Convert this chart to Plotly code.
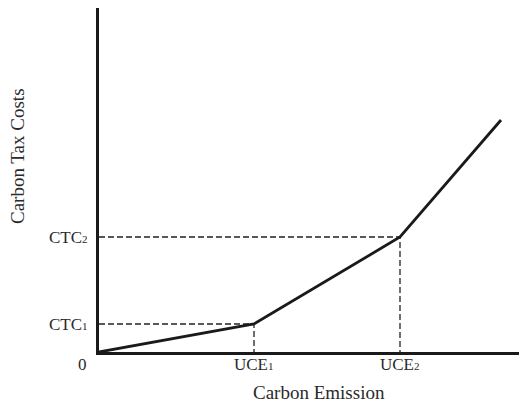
import plotly.graph_objects as go

# Piecewise carbon tax cost curve (arbitrary units)
emission = [0, 155, 301, 402]
tax_cost = [0, 28, 115, 232]
uce_points = [155, 301]
ctc_points = [28, 115]
uce_labels = ['UCE<span style="font-size:11px">1</span>', 'UCE<span style="font-size:11px">2</span>']
ctc_labels = ['CTC<span style="font-size:11px">1</span>', 'CTC<span style="font-size:11px">2</span>']
x_title = "Carbon Emission"
y_title = "Carbon Tax Costs"

X_MAX = 428
Y_MAX = 344
FAM = "Liberation Serif, Times New Roman, serif"
FONT = dict(family=FAM, size=17, color="#2a2a2a")
TFONT = dict(family=FAM, size=19, color="#2a2a2a")

# page body has an 8px margin; compensate so the plot lands where the reference has it
OFF = 8
W, H = 527 - OFF, 402 - OFF
L, T = 99 - OFF, 8 - OFF
B = H - (352 - OFF)

fig = go.Figure()

# dashed guide lines
for ux, cy in zip(uce_points, ctc_points):
    fig.add_trace(go.Scatter(x=[0, ux, ux], y=[cy, cy, 0], mode="lines",
                             line=dict(color="#222222", width=1.3, dash="6px,3px"),
                             hoverinfo="skip", showlegend=False))

# main curve
fig.add_trace(go.Scatter(x=emission, y=tax_cost, mode="lines",
                         line=dict(color="#1a1a1a", width=2.8),
                         showlegend=False))

for ux, lab in zip(uce_points, uce_labels):
    fig.add_annotation(x=ux, y=0, xref="x", yref="y", text=lab, showarrow=False,
                       yanchor="top", xanchor="center", yshift=-1, font=FONT)
for cy, lab in zip(ctc_points, ctc_labels):
    fig.add_annotation(x=0, y=cy, xref="x", yref="y", text=lab, showarrow=False,
                       xanchor="right", yanchor="middle", xshift=-9, font=FONT)
fig.add_annotation(x=0, y=0, xref="x", yref="y", text="0", showarrow=False,
                   xanchor="right", yanchor="top", xshift=-10, yshift=-1, font=FONT)
fig.add_annotation(x=(319 - 99) / 428, y=(352 - 392) / Y_MAX, xref="paper", yref="paper",
                   text=x_title, showarrow=False, xanchor="center", yanchor="middle", font=TFONT)
fig.add_annotation(x=(17 - 99) / 428, y=(352 - 156) / Y_MAX, xref="paper", yref="paper",
                   text=y_title, showarrow=False, textangle=-90,
                   xanchor="center", yanchor="middle", font=TFONT)

fig.update_xaxes(range=[0, X_MAX], showgrid=False, zeroline=False, showticklabels=False,
                 ticks="", showline=True, linecolor="#1a1a1a", linewidth=2.5)
fig.update_yaxes(range=[0, Y_MAX], showgrid=False, zeroline=False, showticklabels=False,
                 ticks="", showline=True, linecolor="#1a1a1a", linewidth=2.5)
fig.update_layout(width=W, height=H,
                  margin=dict(l=L, r=0, t=T, b=B, autoexpand=False),
                  plot_bgcolor="white", paper_bgcolor="white")

fig.write_html("out.html")
